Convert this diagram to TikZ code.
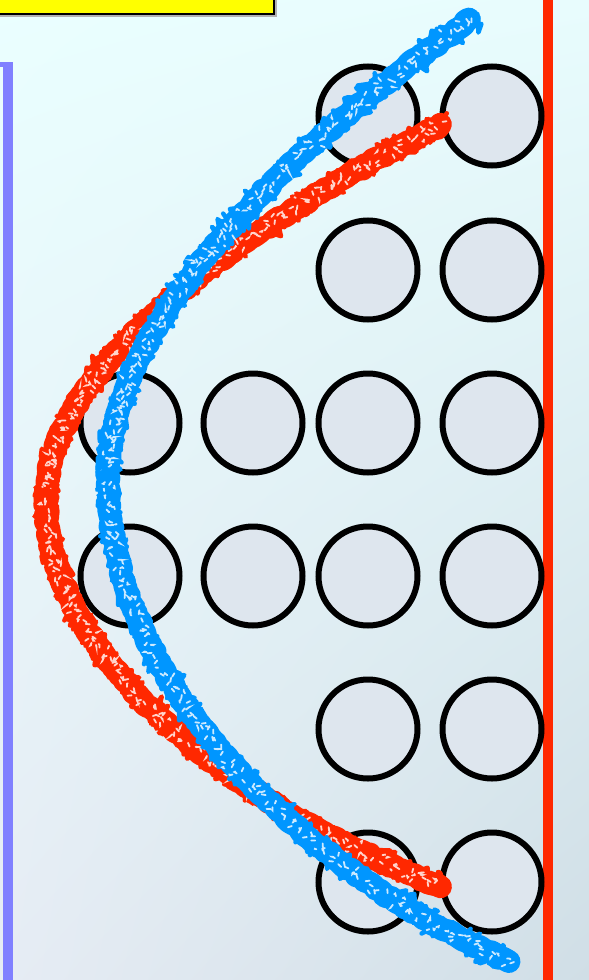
\documentclass[tikz,border=0pt]{standalone}
\usetikzlibrary{shadings}
\definecolor{bgA}{HTML}{EAFFFF}
\definecolor{bgB}{HTML}{E8FCFD}
\definecolor{bgC}{HTML}{E6ECF4}
\definecolor{bgD}{HTML}{D0DEE6}
\definecolor{ballfill}{HTML}{DEE6EE}
\definecolor{brushblue}{HTML}{0096FF}
\definecolor{brushred}{HTML}{FF2800}
\definecolor{wallblue}{HTML}{8080FF}
\definecolor{boxyellow}{HTML}{FFFF00}
\tikzset{
  declare function={bz(\t,\a,\b,\c,\d)=(1-\t)^3*\a+3*(1-\t)^2*\t*\b+3*(1-\t)*\t^2*\c+\t^3*\d;},
  ball/.style={circle, draw=black, line width=6pt, fill=ballfill, minimum size=99pt, inner sep=0pt},
  brushcore/.style={line width=23pt, line cap=round, line join=round},
  brushedge/.style={line width=4.5pt, line cap=round, line join=round},
  brushhole/.style={line width=1.8pt, draw=white, opacity=0.8, dash pattern=on 4pt off 10pt, line cap=round}
}
% one brush stroke: #1 colour, #2..#5 x control values, #6..#9 y control values
\newcommand\brushseg[9]{%
  \draw[brushcore, #1] plot[variable=\t, domain=0:1, samples=160, smooth] ({bz(\t,#2,#3,#4,#5)+1.5*rand},{bz(\t,#6,#7,#8,#9)+1.5*rand});
  \draw[brushedge, #1] plot[variable=\t, domain=0:1, samples=450] ({bz(\t,#2,#3,#4,#5)+12*rand},{bz(\t,#6,#7,#8,#9)+12*rand});
  \draw[brushedge, #1] plot[variable=\t, domain=0:1, samples=350] ({bz(\t,#2,#3,#4,#5)+10*rand},{bz(\t,#6,#7,#8,#9)+10*rand});
  \draw[brushhole] plot[variable=\t, domain=0:1, samples=300] ({bz(\t,#2,#3,#4,#5)+8*rand},{bz(\t,#6,#7,#8,#9)+8*rand});
}
\pgfmathsetseed{7}
\begin{document}
\begin{tikzpicture}[x=1pt,y=-1pt]
\useasboundingbox (0,0) rectangle (589,980);
% background
\shade[upper left=bgA, upper right=bgB, lower left=bgC, lower right=bgD] (0,0) rectangle (589,980);
% yellow box
\fill[gray!60] (-5,-5) rectangle (277,17);
\draw[fill=boxyellow, draw=black, line width=2pt] (-5,-5) rectangle (274,14);
% walls
\fill[wallblue] (-1,62) rectangle (13,67);
\fill[wallblue] (3,62) rectangle (13,985);
\fill[brushred] (543,-5) rectangle (553,985);
% balls
\node[ball] (a1) at (368,116) {};
\node[ball] (b1) at (492,116) {};
\node[ball] (a2) at (368,270) {};
\node[ball] (b2) at (492,270) {};
\node[ball] (d3) at (130,423) {};
\node[ball] (c3) at (253,423) {};
\node[ball] (a3) at (368,423) {};
\node[ball] (b3) at (492,423) {};
\node[ball] (d4) at (130,576) {};
\node[ball] (c4) at (253,576) {};
\node[ball] (a4) at (368,576) {};
\node[ball] (b4) at (492,576) {};
\node[ball] (a5) at (368,729) {};
\node[ball] (b5) at (492,729) {};
\node[ball] (a6) at (368,882) {};
\node[ball] (b6) at (492,882) {};
% red brush curve
\brushseg{brushred}{440}{230}{46}{46}{125}{235}{370}{500}
\brushseg{brushred}{46}{46}{240}{440}{500}{660}{810}{886}
% blue brush curve
\brushseg{brushblue}{470}{270}{108}{108}{20}{160}{330}{480}
\brushseg{brushblue}{108}{108}{300}{510}{480}{680}{870}{962}
\end{tikzpicture}
\end{document}
